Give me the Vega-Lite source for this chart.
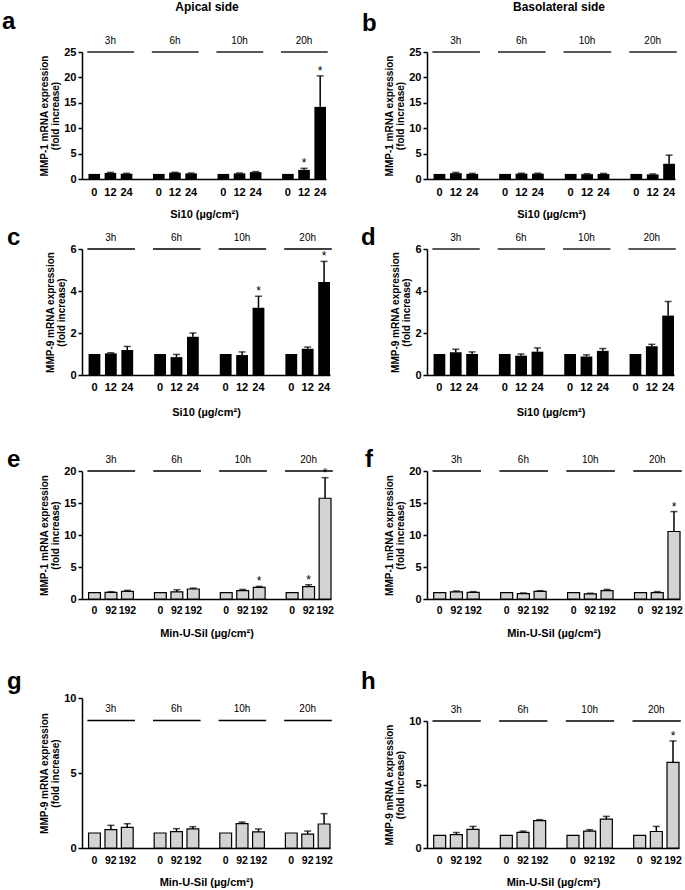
{
"$schema": "https://vega.github.io/schema/vega-lite/v6.json",
"padding": {"left": 2, "top": 1, "right": 0, "bottom": 0},
"config": {
  "font": "Liberation Sans",
  "view": {"stroke": null},
  "axis": {"grid": false, "domainColor": "black", "domainWidth": 1.5, "tickColor": "black", "tickWidth": 1.5, "tickSize": 4, "labelFontWeight": "bold", "labelFontSize": 11, "labelColor": "black", "labelPadding": 2, "labelOverlap": false, "titleFontWeight": "bold", "titleColor": "black", "titleFontSize": 10, "titlePadding": 3, "titleLineHeight": 11.5},
  "axisX": {"titleFontSize": 11, "labelAngle": 0, "ticks": false, "tickSize": 0, "labelFontSize": 11},
  "text": {"color": "black"}
},
"hconcat": [
{"vconcat": [
{"hconcat": [
 {"width": 244, "height": 127,
  "data": {"values": [
   {"k":"3h|0","m":1.0,"hi":null,"s":0},{"k":"3h|12","m":1.2,"hi":1.3,"s":0},{"k":"3h|24","m":1.05,"hi":1.12,"s":0},
   {"k":"6h|0","m":1.0,"hi":null,"s":0},{"k":"6h|12","m":1.25,"hi":1.32,"s":0},{"k":"6h|24","m":1.1,"hi":1.18,"s":0},
   {"k":"10h|0","m":1.0,"hi":null,"s":0},{"k":"10h|12","m":1.1,"hi":1.18,"s":0},{"k":"10h|24","m":1.35,"hi":1.45,"s":0},
   {"k":"20h|0","m":1.0,"hi":null,"s":0},{"k":"20h|12","m":1.8,"hi":2.1,"s":1},{"k":"20h|24","m":14.2,"hi":20.3,"s":1}]},
  "layer": [
   {"mark": {"type": "bar", "color": "black"},
    "encoding": {
     "x": {"field": "k", "type": "nominal", "scale": {"domain": ["3h|0","3h|12","3h|24","s1","6h|0","6h|12","6h|24","s2","10h|0","10h|12","10h|24","s3","20h|0","20h|12","20h|24"], "paddingInner": 0.28, "paddingOuter": 0.2, "align": 1}, "axis": {"labelExpr": "indexof(datum.value, '|') > 0 ? split(datum.value, '|')[1] : ''", "labelPadding": 7, "title": "Si10 (µg/cm²)", "titlePadding": 11}},
     "y": {"field": "m", "type": "quantitative", "scale": {"domain": [0,25], "nice": false}, "axis": {"values": [0,5,10,15,20,25], "title": ["MMP-1 mRNA expression", "(fold increase)"]}}}},
   {"transform": [{"filter": "datum.hi != null"}], "mark": {"type": "rule", "color": "black", "strokeWidth": 1.5},
    "encoding": {"x": {"field": "k", "type": "nominal", "axis": {"labelExpr": "indexof(datum.value, '|') > 0 ? split(datum.value, '|')[1] : ''", "labelPadding": 7, "title": "Si10 (µg/cm²)", "titlePadding": 11}}, "y": {"field": "m", "type": "quantitative", "axis": {"values": [0,5,10,15,20,25], "title": ["MMP-1 mRNA expression", "(fold increase)"]}}, "y2": {"field": "hi"}}},
   {"transform": [{"filter": "datum.hi != null"}], "mark": {"type": "tick", "color": "black", "thickness": 1.5, "size": 7, "orient": "horizontal"},
    "encoding": {"x": {"field": "k", "type": "nominal", "axis": {"labelExpr": "indexof(datum.value, '|') > 0 ? split(datum.value, '|')[1] : ''", "labelPadding": 7, "title": "Si10 (µg/cm²)", "titlePadding": 11}}, "y": {"field": "hi", "type": "quantitative", "axis": {"values": [0,5,10,15,20,25], "title": ["MMP-1 mRNA expression", "(fold increase)"]}}}},
   {"transform": [{"filter": "datum.s == 1"}], "mark": {"type": "text", "text": "*", "fontSize": 12, "dy": -1, "baseline": "alphabetic"},
    "encoding": {"x": {"field": "k", "type": "nominal", "axis": {"labelExpr": "indexof(datum.value, '|') > 0 ? split(datum.value, '|')[1] : ''", "labelPadding": 7, "title": "Si10 (µg/cm²)", "titlePadding": 11}}, "y": {"field": "hi", "type": "quantitative", "axis": {"values": [0,5,10,15,20,25], "title": ["MMP-1 mRNA expression", "(fold increase)"]}}}},
   {"data": {"values": [{"t":"3h","a":"3h|0","c":"3h|12","b":"3h|24"},{"t":"6h","a":"6h|0","c":"6h|12","b":"6h|24"},{"t":"10h","a":"10h|0","c":"10h|12","b":"10h|24"},{"t":"20h","a":"20h|0","c":"20h|12","b":"20h|24"}]},
    "layer": [
     {"mark": {"type": "rule", "color": "#222", "strokeWidth": 1.5},
      "encoding": {"x": {"field": "a", "type": "nominal", "bandPosition": -0.1, "axis": {"labelExpr": "indexof(datum.value, '|') > 0 ? split(datum.value, '|')[1] : ''", "labelPadding": 7, "title": "Si10 (µg/cm²)", "titlePadding": 11}}, "x2": {"field": "b", "bandPosition": 1.15}, "y": {"datum": 25, "axis": {"values": [0,5,10,15,20,25], "title": ["MMP-1 mRNA expression", "(fold increase)"]}}}},
     {"mark": {"type": "text", "fontSize": 10, "dy": -8.5, "baseline": "alphabetic"},
      "encoding": {"x": {"field": "c", "type": "nominal", "axis": {"labelExpr": "indexof(datum.value, '|') > 0 ? split(datum.value, '|')[1] : ''", "labelPadding": 7, "title": "Si10 (µg/cm²)", "titlePadding": 11}}, "y": {"datum": 25, "axis": {"values": [0,5,10,15,20,25], "title": ["MMP-1 mRNA expression", "(fold increase)"]}}, "text": {"field": "t"}}}
    ]},
   {"data": {"values": [{"label": "a"}]}, "mark": {"type": "text", "fontSize": 24, "fontWeight": "bold", "align": "left", "baseline": "top", "dx": -202, "dy": -42},
    "encoding": {"y": {"datum": 25, "axis": {"values": [0,5,10,15,20,25], "title": ["MMP-1 mRNA expression", "(fold increase)"]}}, "text": {"field": "label"}}},
   {"data": {"values": [{"label": "Apical side"}]}, "mark": {"type": "text", "fontSize": 12, "fontWeight": "bold", "baseline": "top", "dx": 3, "dy": -50},
    "encoding": {"y": {"datum": 25, "axis": {"values": [0,5,10,15,20,25], "title": ["MMP-1 mRNA expression", "(fold increase)"]}}, "text": {"field": "label"}}}
  ]}
]},
{"vconcat": [
{"hconcat": [
 {"width": 248, "height": 126,
  "data": {"values": [
   {"k":"3h|0","m":1.0,"hi":null,"s":0},{"k":"3h|12","m":1.03,"hi":1.06,"s":0},{"k":"3h|24","m":1.19,"hi":1.36,"s":0},
   {"k":"6h|0","m":1.0,"hi":null,"s":0},{"k":"6h|12","m":0.85,"hi":0.98,"s":0},{"k":"6h|24","m":1.82,"hi":2.0,"s":0},
   {"k":"10h|0","m":1.0,"hi":null,"s":0},{"k":"10h|12","m":0.95,"hi":1.1,"s":0},{"k":"10h|24","m":3.2,"hi":3.75,"s":1},
   {"k":"20h|0","m":1.0,"hi":null,"s":0},{"k":"20h|12","m":1.25,"hi":1.33,"s":0},{"k":"20h|24","m":4.43,"hi":5.41,"s":1}]},
  "layer": [
   {"mark": {"type": "bar", "color": "black"},
    "encoding": {
     "x": {"field": "k", "type": "nominal", "scale": {"domain": ["3h|0","3h|12","3h|24","s1","6h|0","6h|12","6h|24","s2","10h|0","10h|12","10h|24","s3","20h|0","20h|12","20h|24"], "paddingInner": 0.28, "paddingOuter": 0.2, "align": 1}, "axis": {"labelExpr": "indexof(datum.value, '|') > 0 ? split(datum.value, '|')[1] : ''", "labelPadding": 6, "title": "Si10 (µg/cm²)", "titlePadding": 14.5}},
     "y": {"field": "m", "type": "quantitative", "scale": {"domain": [0,6], "nice": false}, "axis": {"values": [0,2,4,6], "title": ["MMP-9 mRNA expression", "(fold increase)"]}}}},
   {"transform": [{"filter": "datum.hi != null"}], "mark": {"type": "rule", "color": "black", "strokeWidth": 1.5},
    "encoding": {"x": {"field": "k", "type": "nominal", "axis": {"labelExpr": "indexof(datum.value, '|') > 0 ? split(datum.value, '|')[1] : ''", "labelPadding": 6, "title": "Si10 (µg/cm²)", "titlePadding": 14.5}}, "y": {"field": "m", "type": "quantitative", "axis": {"values": [0,2,4,6], "title": ["MMP-9 mRNA expression", "(fold increase)"]}}, "y2": {"field": "hi"}}},
   {"transform": [{"filter": "datum.hi != null"}], "mark": {"type": "tick", "color": "black", "thickness": 1.5, "size": 7, "orient": "horizontal"},
    "encoding": {"x": {"field": "k", "type": "nominal", "axis": {"labelExpr": "indexof(datum.value, '|') > 0 ? split(datum.value, '|')[1] : ''", "labelPadding": 6, "title": "Si10 (µg/cm²)", "titlePadding": 14.5}}, "y": {"field": "hi", "type": "quantitative", "axis": {"values": [0,2,4,6], "title": ["MMP-9 mRNA expression", "(fold increase)"]}}}},
   {"transform": [{"filter": "datum.s == 1"}], "mark": {"type": "text", "text": "*", "fontSize": 12, "dy": -1, "baseline": "alphabetic"},
    "encoding": {"x": {"field": "k", "type": "nominal", "axis": {"labelExpr": "indexof(datum.value, '|') > 0 ? split(datum.value, '|')[1] : ''", "labelPadding": 6, "title": "Si10 (µg/cm²)", "titlePadding": 14.5}}, "y": {"field": "hi", "type": "quantitative", "axis": {"values": [0,2,4,6], "title": ["MMP-9 mRNA expression", "(fold increase)"]}}}},
   {"data": {"values": [{"t":"3h","a":"3h|0","c":"3h|12","b":"3h|24"},{"t":"6h","a":"6h|0","c":"6h|12","b":"6h|24"},{"t":"10h","a":"10h|0","c":"10h|12","b":"10h|24"},{"t":"20h","a":"20h|0","c":"20h|12","b":"20h|24"}]},
    "layer": [
     {"mark": {"type": "rule", "color": "black", "strokeWidth": 1.5},
      "encoding": {"x": {"field": "a", "type": "nominal", "bandPosition": -0.1, "axis": {"labelExpr": "indexof(datum.value, '|') > 0 ? split(datum.value, '|')[1] : ''", "labelPadding": 6, "title": "Si10 (µg/cm²)", "titlePadding": 14.5}}, "x2": {"field": "b", "bandPosition": 1.15}, "y": {"datum": 6, "axis": {"values": [0,2,4,6], "title": ["MMP-9 mRNA expression", "(fold increase)"]}}}},
     {"mark": {"type": "text", "fontSize": 10, "dy": -8.5, "baseline": "alphabetic"},
      "encoding": {"x": {"field": "c", "type": "nominal", "axis": {"labelExpr": "indexof(datum.value, '|') > 0 ? split(datum.value, '|')[1] : ''", "labelPadding": 6, "title": "Si10 (µg/cm²)", "titlePadding": 14.5}}, "y": {"datum": 6, "axis": {"values": [0,2,4,6], "title": ["MMP-9 mRNA expression", "(fold increase)"]}}, "text": {"field": "t"}}}
    ]},
   {"data": {"values": [{"label": "c"}]}, "mark": {"type": "text", "fontSize": 24, "fontWeight": "bold", "align": "left", "baseline": "top", "dx": -199, "dy": -23},
    "encoding": {"y": {"datum": 6, "axis": {"values": [0,2,4,6], "title": ["MMP-9 mRNA expression", "(fold increase)"]}}, "text": {"field": "label"}}}
  ]}
]},
{"vconcat": [
{"hconcat": [
 {"width": 249, "height": 128,
  "data": {"values": [
   {"k":"3h|0","m":1.0,"hi":null,"s":0},{"k":"3h|92","m":1.04,"hi":1.14,"s":0},{"k":"3h|192","m":1.2,"hi":1.35,"s":0},
   {"k":"6h|0","m":1.0,"hi":null,"s":0},{"k":"6h|92","m":1.1,"hi":1.45,"s":0},{"k":"6h|192","m":1.56,"hi":1.7,"s":0},
   {"k":"10h|0","m":1.0,"hi":null,"s":0},{"k":"10h|92","m":1.3,"hi":1.5,"s":0},{"k":"10h|192","m":1.82,"hi":1.97,"s":1},
   {"k":"20h|0","m":1.0,"hi":null,"s":0},{"k":"20h|92","m":1.92,"hi":2.23,"s":1},{"k":"20h|192","m":15.74,"hi":18.96,"s":1}]},
  "layer": [
   {"mark": {"type": "bar", "fill": "#d3d3d3", "stroke": "black", "strokeWidth": 1.2},
    "encoding": {
     "x": {"field": "k", "type": "nominal", "scale": {"domain": ["3h|0","3h|92","3h|192","s1","6h|0","6h|92","6h|192","s2","10h|0","10h|92","10h|192","s3","20h|0","20h|92","20h|192"], "paddingInner": 0.28, "paddingOuter": 0.2, "align": 1}, "axis": {"labelExpr": "indexof(datum.value, '|') > 0 ? split(datum.value, '|')[1] : ''", "labelPadding": 6, "labelFontSize": 10.5, "title": "Min-U-Sil (µg/cm²)", "titlePadding": 12}},
     "y": {"field": "m", "type": "quantitative", "scale": {"domain": [0,20], "nice": false}, "axis": {"values": [0,5,10,15,20], "title": ["MMP-1 mRNA expression", "(fold increase)"]}}}},
   {"transform": [{"filter": "datum.hi != null"}], "mark": {"type": "rule", "color": "black", "strokeWidth": 1.5},
    "encoding": {"x": {"field": "k", "type": "nominal", "axis": {"labelExpr": "indexof(datum.value, '|') > 0 ? split(datum.value, '|')[1] : ''", "labelPadding": 6, "labelFontSize": 10.5, "title": "Min-U-Sil (µg/cm²)", "titlePadding": 12}}, "y": {"field": "m", "type": "quantitative", "axis": {"values": [0,5,10,15,20], "title": ["MMP-1 mRNA expression", "(fold increase)"]}}, "y2": {"field": "hi"}}},
   {"transform": [{"filter": "datum.hi != null"}], "mark": {"type": "tick", "color": "black", "thickness": 1.5, "size": 7, "orient": "horizontal"},
    "encoding": {"x": {"field": "k", "type": "nominal", "axis": {"labelExpr": "indexof(datum.value, '|') > 0 ? split(datum.value, '|')[1] : ''", "labelPadding": 6, "labelFontSize": 10.5, "title": "Min-U-Sil (µg/cm²)", "titlePadding": 12}}, "y": {"field": "hi", "type": "quantitative", "axis": {"values": [0,5,10,15,20], "title": ["MMP-1 mRNA expression", "(fold increase)"]}}}},
   {"transform": [{"filter": "datum.s == 1"}], "mark": {"type": "text", "text": "*", "fontSize": 12, "dy": -1, "baseline": "alphabetic"},
    "encoding": {"x": {"field": "k", "type": "nominal", "axis": {"labelExpr": "indexof(datum.value, '|') > 0 ? split(datum.value, '|')[1] : ''", "labelPadding": 6, "labelFontSize": 10.5, "title": "Min-U-Sil (µg/cm²)", "titlePadding": 12}}, "y": {"field": "hi", "type": "quantitative", "axis": {"values": [0,5,10,15,20], "title": ["MMP-1 mRNA expression", "(fold increase)"]}}}},
   {"data": {"values": [{"t":"3h","a":"3h|0","c":"3h|92","b":"3h|192"},{"t":"6h","a":"6h|0","c":"6h|92","b":"6h|192"},{"t":"10h","a":"10h|0","c":"10h|92","b":"10h|192"},{"t":"20h","a":"20h|0","c":"20h|92","b":"20h|192"}]},
    "layer": [
     {"mark": {"type": "rule", "color": "black", "strokeWidth": 1.5},
      "encoding": {"x": {"field": "a", "type": "nominal", "bandPosition": -0.1, "axis": {"labelExpr": "indexof(datum.value, '|') > 0 ? split(datum.value, '|')[1] : ''", "labelPadding": 6, "labelFontSize": 10.5, "title": "Min-U-Sil (µg/cm²)", "titlePadding": 12}}, "x2": {"field": "b", "bandPosition": 1.15}, "y": {"datum": 20, "axis": {"values": [0,5,10,15,20], "title": ["MMP-1 mRNA expression", "(fold increase)"]}}}},
     {"mark": {"type": "text", "fontSize": 10, "dy": -8.5, "baseline": "alphabetic"},
      "encoding": {"x": {"field": "c", "type": "nominal", "axis": {"labelExpr": "indexof(datum.value, '|') > 0 ? split(datum.value, '|')[1] : ''", "labelPadding": 6, "labelFontSize": 10.5, "title": "Min-U-Sil (µg/cm²)", "titlePadding": 12}}, "y": {"datum": 20, "axis": {"values": [0,5,10,15,20], "title": ["MMP-1 mRNA expression", "(fold increase)"]}}, "text": {"field": "t"}}}
    ]},
   {"data": {"values": [{"label": "e"}]}, "mark": {"type": "text", "fontSize": 24, "fontWeight": "bold", "align": "left", "baseline": "top", "dx": -199.5, "dy": -23},
    "encoding": {"y": {"datum": 20, "axis": {"values": [0,5,10,15,20], "title": ["MMP-1 mRNA expression", "(fold increase)"]}}, "text": {"field": "label"}}}
  ]}
]},
{"hconcat": [
 {"width": 248, "height": 150,
  "data": {"values": [
   {"k":"3h|0","m":1.0,"hi":null,"s":0},{"k":"3h|92","m":1.22,"hi":1.51,"s":0},{"k":"3h|192","m":1.38,"hi":1.62,"s":0},
   {"k":"6h|0","m":1.0,"hi":null,"s":0},{"k":"6h|92","m":1.09,"hi":1.29,"s":0},{"k":"6h|192","m":1.27,"hi":1.42,"s":0},
   {"k":"10h|0","m":1.0,"hi":null,"s":0},{"k":"10h|92","m":1.62,"hi":1.73,"s":0},{"k":"10h|192","m":1.07,"hi":1.27,"s":0},
   {"k":"20h|0","m":1.0,"hi":null,"s":0},{"k":"20h|92","m":0.93,"hi":1.13,"s":0},{"k":"20h|192","m":1.6,"hi":2.29,"s":0}]},
  "layer": [
   {"mark": {"type": "bar", "fill": "#d3d3d3", "stroke": "black", "strokeWidth": 1.2},
    "encoding": {
     "x": {"field": "k", "type": "nominal", "scale": {"domain": ["3h|0","3h|92","3h|192","s1","6h|0","6h|92","6h|192","s2","10h|0","10h|92","10h|192","s3","20h|0","20h|92","20h|192"], "paddingInner": 0.28, "paddingOuter": 0.2, "align": 1}, "axis": {"labelExpr": "indexof(datum.value, '|') > 0 ? split(datum.value, '|')[1] : ''", "labelPadding": 7, "labelFontSize": 10.5, "title": "Min-U-Sil (µg/cm²)", "titlePadding": 11}},
     "y": {"field": "m", "type": "quantitative", "scale": {"domain": [0,10], "nice": false}, "axis": {"values": [0,5,10], "title": ["MMP-9 mRNA expression", "(fold increase)"]}}}},
   {"transform": [{"filter": "datum.hi != null"}], "mark": {"type": "rule", "color": "black", "strokeWidth": 1.5},
    "encoding": {"x": {"field": "k", "type": "nominal", "axis": {"labelExpr": "indexof(datum.value, '|') > 0 ? split(datum.value, '|')[1] : ''", "labelPadding": 7, "labelFontSize": 10.5, "title": "Min-U-Sil (µg/cm²)", "titlePadding": 11}}, "y": {"field": "m", "type": "quantitative", "axis": {"values": [0,5,10], "title": ["MMP-9 mRNA expression", "(fold increase)"]}}, "y2": {"field": "hi"}}},
   {"transform": [{"filter": "datum.hi != null"}], "mark": {"type": "tick", "color": "black", "thickness": 1.5, "size": 7, "orient": "horizontal"},
    "encoding": {"x": {"field": "k", "type": "nominal", "axis": {"labelExpr": "indexof(datum.value, '|') > 0 ? split(datum.value, '|')[1] : ''", "labelPadding": 7, "labelFontSize": 10.5, "title": "Min-U-Sil (µg/cm²)", "titlePadding": 11}}, "y": {"field": "hi", "type": "quantitative", "axis": {"values": [0,5,10], "title": ["MMP-9 mRNA expression", "(fold increase)"]}}}},
   {"data": {"values": [{"t":"3h","a":"3h|0","c":"3h|92","b":"3h|192"},{"t":"6h","a":"6h|0","c":"6h|92","b":"6h|192"},{"t":"10h","a":"10h|0","c":"10h|92","b":"10h|192"},{"t":"20h","a":"20h|0","c":"20h|92","b":"20h|192"}]},
    "layer": [
     {"mark": {"type": "rule", "color": "black", "strokeWidth": 1.5},
      "encoding": {"x": {"field": "a", "type": "nominal", "bandPosition": -0.1, "axis": {"labelExpr": "indexof(datum.value, '|') > 0 ? split(datum.value, '|')[1] : ''", "labelPadding": 7, "labelFontSize": 10.5, "title": "Min-U-Sil (µg/cm²)", "titlePadding": 11}}, "x2": {"field": "b", "bandPosition": 1.15}, "y": {"datum": 8.5, "axis": {"values": [0,5,10], "title": ["MMP-9 mRNA expression", "(fold increase)"]}}}},
     {"mark": {"type": "text", "fontSize": 10, "dy": -8.5, "baseline": "alphabetic"},
      "encoding": {"x": {"field": "c", "type": "nominal", "axis": {"labelExpr": "indexof(datum.value, '|') > 0 ? split(datum.value, '|')[1] : ''", "labelPadding": 7, "labelFontSize": 10.5, "title": "Min-U-Sil (µg/cm²)", "titlePadding": 11}}, "y": {"datum": 8.5, "axis": {"values": [0,5,10], "title": ["MMP-9 mRNA expression", "(fold increase)"]}}, "text": {"field": "t"}}}
    ]},
   {"data": {"values": [{"label": "g"}]}, "mark": {"type": "text", "fontSize": 24, "fontWeight": "bold", "align": "left", "baseline": "top", "dx": -199, "dy": -28},
    "encoding": {"y": {"datum": 10, "axis": {"values": [0,5,10], "title": ["MMP-9 mRNA expression", "(fold increase)"]}}, "text": {"field": "label"}}}
  ]}
]}
], "spacing": 31}
], "spacing": 30}
], "spacing": 7},
{"vconcat": [
{"hconcat": [
 {"width": 248, "height": 127,
  "data": {"values": [
   {"k":"3h|0","m":1.0,"hi":null,"s":0},{"k":"3h|12","m":1.15,"hi":1.3,"s":0},{"k":"3h|24","m":1.0,"hi":1.1,"s":0},
   {"k":"6h|0","m":1.0,"hi":null,"s":0},{"k":"6h|12","m":1.05,"hi":1.15,"s":0},{"k":"6h|24","m":1.05,"hi":1.15,"s":0},
   {"k":"10h|0","m":1.0,"hi":null,"s":0},{"k":"10h|12","m":0.95,"hi":1.05,"s":0},{"k":"10h|24","m":1.0,"hi":1.1,"s":0},
   {"k":"20h|0","m":1.0,"hi":null,"s":0},{"k":"20h|12","m":0.9,"hi":1.0,"s":0},{"k":"20h|24","m":3.0,"hi":4.7,"s":0}]},
  "layer": [
   {"mark": {"type": "bar", "color": "black"},
    "encoding": {
     "x": {"field": "k", "type": "nominal", "scale": {"domain": ["3h|0","3h|12","3h|24","s1","6h|0","6h|12","6h|24","s2","10h|0","10h|12","10h|24","s3","20h|0","20h|12","20h|24"], "paddingInner": 0.28, "paddingOuter": 0.2, "align": 1}, "axis": {"labelExpr": "indexof(datum.value, '|') > 0 ? split(datum.value, '|')[1] : ''", "labelPadding": 7, "title": "Si10 (µg/cm²)", "titlePadding": 11}},
     "y": {"field": "m", "type": "quantitative", "scale": {"domain": [0,25], "nice": false}, "axis": {"values": [0,5,10,15,20,25], "title": ["MMP-1 mRNA expression", "(fold increase)"]}}}},
   {"transform": [{"filter": "datum.hi != null"}], "mark": {"type": "rule", "color": "black", "strokeWidth": 1.5},
    "encoding": {"x": {"field": "k", "type": "nominal", "axis": {"labelExpr": "indexof(datum.value, '|') > 0 ? split(datum.value, '|')[1] : ''", "labelPadding": 7, "title": "Si10 (µg/cm²)", "titlePadding": 11}}, "y": {"field": "m", "type": "quantitative", "axis": {"values": [0,5,10,15,20,25], "title": ["MMP-1 mRNA expression", "(fold increase)"]}}, "y2": {"field": "hi"}}},
   {"transform": [{"filter": "datum.hi != null"}], "mark": {"type": "tick", "color": "black", "thickness": 1.5, "size": 7, "orient": "horizontal"},
    "encoding": {"x": {"field": "k", "type": "nominal", "axis": {"labelExpr": "indexof(datum.value, '|') > 0 ? split(datum.value, '|')[1] : ''", "labelPadding": 7, "title": "Si10 (µg/cm²)", "titlePadding": 11}}, "y": {"field": "hi", "type": "quantitative", "axis": {"values": [0,5,10,15,20,25], "title": ["MMP-1 mRNA expression", "(fold increase)"]}}}},
   {"data": {"values": [{"t":"3h","a":"3h|0","c":"3h|12","b":"3h|24"},{"t":"6h","a":"6h|0","c":"6h|12","b":"6h|24"},{"t":"10h","a":"10h|0","c":"10h|12","b":"10h|24"},{"t":"20h","a":"20h|0","c":"20h|12","b":"20h|24"}]},
    "layer": [
     {"mark": {"type": "rule", "color": "#222", "strokeWidth": 1.5},
      "encoding": {"x": {"field": "a", "type": "nominal", "bandPosition": -0.1, "axis": {"labelExpr": "indexof(datum.value, '|') > 0 ? split(datum.value, '|')[1] : ''", "labelPadding": 7, "title": "Si10 (µg/cm²)", "titlePadding": 11}}, "x2": {"field": "b", "bandPosition": 1.15}, "y": {"datum": 25, "axis": {"values": [0,5,10,15,20,25], "title": ["MMP-1 mRNA expression", "(fold increase)"]}}}},
     {"mark": {"type": "text", "fontSize": 10, "dy": -8.5, "baseline": "alphabetic"},
      "encoding": {"x": {"field": "c", "type": "nominal", "axis": {"labelExpr": "indexof(datum.value, '|') > 0 ? split(datum.value, '|')[1] : ''", "labelPadding": 7, "title": "Si10 (µg/cm²)", "titlePadding": 11}}, "y": {"datum": 25, "axis": {"values": [0,5,10,15,20,25], "title": ["MMP-1 mRNA expression", "(fold increase)"]}}, "text": {"field": "t"}}}
    ]},
   {"data": {"values": [{"label": "b"}]}, "mark": {"type": "text", "fontSize": 24, "fontWeight": "bold", "align": "left", "baseline": "top", "dx": -189, "dy": -40},
    "encoding": {"y": {"datum": 25, "axis": {"values": [0,5,10,15,20,25], "title": ["MMP-1 mRNA expression", "(fold increase)"]}}, "text": {"field": "label"}}},
   {"data": {"values": [{"label": "Basolateral side"}]}, "mark": {"type": "text", "fontSize": 12, "fontWeight": "bold", "baseline": "top", "dx": 8, "dy": -50},
    "encoding": {"y": {"datum": 25, "axis": {"values": [0,5,10,15,20,25], "title": ["MMP-1 mRNA expression", "(fold increase)"]}}, "text": {"field": "label"}}}
  ]}
]},
{"vconcat": [
{"hconcat": [
 {"width": 247, "height": 126,
  "data": {"values": [
   {"k":"3h|0","m":1.0,"hi":null,"s":0},{"k":"3h|12","m":1.08,"hi":1.23,"s":0},{"k":"3h|24","m":1.0,"hi":1.1,"s":0},
   {"k":"6h|0","m":1.0,"hi":null,"s":0},{"k":"6h|12","m":0.92,"hi":1.0,"s":0},{"k":"6h|24","m":1.11,"hi":1.29,"s":0},
   {"k":"10h|0","m":1.0,"hi":null,"s":0},{"k":"10h|12","m":0.88,"hi":0.96,"s":0},{"k":"10h|24","m":1.15,"hi":1.26,"s":0},
   {"k":"20h|0","m":1.0,"hi":null,"s":0},{"k":"20h|12","m":1.37,"hi":1.46,"s":0},{"k":"20h|24","m":2.83,"hi":3.5,"s":0}]},
  "layer": [
   {"mark": {"type": "bar", "color": "black"},
    "encoding": {
     "x": {"field": "k", "type": "nominal", "scale": {"domain": ["3h|0","3h|12","3h|24","s1","6h|0","6h|12","6h|24","s2","10h|0","10h|12","10h|24","s3","20h|0","20h|12","20h|24"], "paddingInner": 0.28, "paddingOuter": 0.2, "align": 1}, "axis": {"labelExpr": "indexof(datum.value, '|') > 0 ? split(datum.value, '|')[1] : ''", "labelPadding": 6, "title": "Si10 (µg/cm²)", "titlePadding": 14.5}},
     "y": {"field": "m", "type": "quantitative", "scale": {"domain": [0,6], "nice": false}, "axis": {"values": [0,2,4,6], "title": ["MMP-9 mRNA expression", "(fold increase)"]}}}},
   {"transform": [{"filter": "datum.hi != null"}], "mark": {"type": "rule", "color": "black", "strokeWidth": 1.5},
    "encoding": {"x": {"field": "k", "type": "nominal", "axis": {"labelExpr": "indexof(datum.value, '|') > 0 ? split(datum.value, '|')[1] : ''", "labelPadding": 6, "title": "Si10 (µg/cm²)", "titlePadding": 14.5}}, "y": {"field": "m", "type": "quantitative", "axis": {"values": [0,2,4,6], "title": ["MMP-9 mRNA expression", "(fold increase)"]}}, "y2": {"field": "hi"}}},
   {"transform": [{"filter": "datum.hi != null"}], "mark": {"type": "tick", "color": "black", "thickness": 1.5, "size": 7, "orient": "horizontal"},
    "encoding": {"x": {"field": "k", "type": "nominal", "axis": {"labelExpr": "indexof(datum.value, '|') > 0 ? split(datum.value, '|')[1] : ''", "labelPadding": 6, "title": "Si10 (µg/cm²)", "titlePadding": 14.5}}, "y": {"field": "hi", "type": "quantitative", "axis": {"values": [0,2,4,6], "title": ["MMP-9 mRNA expression", "(fold increase)"]}}}},
   {"data": {"values": [{"t":"3h","a":"3h|0","c":"3h|12","b":"3h|24"},{"t":"6h","a":"6h|0","c":"6h|12","b":"6h|24"},{"t":"10h","a":"10h|0","c":"10h|12","b":"10h|24"},{"t":"20h","a":"20h|0","c":"20h|12","b":"20h|24"}]},
    "layer": [
     {"mark": {"type": "rule", "color": "#222", "strokeWidth": 1.5},
      "encoding": {"x": {"field": "a", "type": "nominal", "bandPosition": -0.1, "axis": {"labelExpr": "indexof(datum.value, '|') > 0 ? split(datum.value, '|')[1] : ''", "labelPadding": 6, "title": "Si10 (µg/cm²)", "titlePadding": 14.5}}, "x2": {"field": "b", "bandPosition": 1.15}, "y": {"datum": 6, "axis": {"values": [0,2,4,6], "title": ["MMP-9 mRNA expression", "(fold increase)"]}}}},
     {"mark": {"type": "text", "fontSize": 10, "dy": -8.5, "baseline": "alphabetic"},
      "encoding": {"x": {"field": "c", "type": "nominal", "axis": {"labelExpr": "indexof(datum.value, '|') > 0 ? split(datum.value, '|')[1] : ''", "labelPadding": 6, "title": "Si10 (µg/cm²)", "titlePadding": 14.5}}, "y": {"datum": 6, "axis": {"values": [0,2,4,6], "title": ["MMP-9 mRNA expression", "(fold increase)"]}}, "text": {"field": "t"}}}
    ]},
   {"data": {"values": [{"label": "d"}]}, "mark": {"type": "text", "fontSize": 24, "fontWeight": "bold", "align": "left", "baseline": "top", "dx": -189.5, "dy": -23},
    "encoding": {"y": {"datum": 6, "axis": {"values": [0,2,4,6], "title": ["MMP-9 mRNA expression", "(fold increase)"]}}, "text": {"field": "label"}}}
  ]}
]},
{"vconcat": [
{"hconcat": [
 {"width": 253, "height": 128,
  "data": {"values": [
   {"k":"3h|0","m":1.0,"hi":null,"s":0},{"k":"3h|92","m":1.1,"hi":1.25,"s":0},{"k":"3h|192","m":1.05,"hi":1.15,"s":0},
   {"k":"6h|0","m":1.0,"hi":null,"s":0},{"k":"6h|92","m":0.85,"hi":0.95,"s":0},{"k":"6h|192","m":1.2,"hi":1.3,"s":0},
   {"k":"10h|0","m":1.0,"hi":null,"s":0},{"k":"10h|92","m":0.8,"hi":0.9,"s":0},{"k":"10h|192","m":1.3,"hi":1.5,"s":0},
   {"k":"20h|0","m":1.0,"hi":null,"s":0},{"k":"20h|92","m":1.0,"hi":1.15,"s":0},{"k":"20h|192","m":10.55,"hi":13.66,"s":1}]},
  "layer": [
   {"mark": {"type": "bar", "fill": "#d3d3d3", "stroke": "black", "strokeWidth": 1.2},
    "encoding": {
     "x": {"field": "k", "type": "nominal", "scale": {"domain": ["3h|0","3h|92","3h|192","s1","6h|0","6h|92","6h|192","s2","10h|0","10h|92","10h|192","s3","20h|0","20h|92","20h|192"], "paddingInner": 0.28, "paddingOuter": 0.2, "align": 1}, "axis": {"labelExpr": "indexof(datum.value, '|') > 0 ? split(datum.value, '|')[1] : ''", "labelPadding": 6, "labelFontSize": 10.5, "title": "Min-U-Sil (µg/cm²)", "titlePadding": 12}},
     "y": {"field": "m", "type": "quantitative", "scale": {"domain": [0,20], "nice": false}, "axis": {"values": [0,5,10,15,20], "title": ["MMP-1 mRNA expression", "(fold increase)"]}}}},
   {"transform": [{"filter": "datum.hi != null"}], "mark": {"type": "rule", "color": "black", "strokeWidth": 1.5},
    "encoding": {"x": {"field": "k", "type": "nominal", "axis": {"labelExpr": "indexof(datum.value, '|') > 0 ? split(datum.value, '|')[1] : ''", "labelPadding": 6, "labelFontSize": 10.5, "title": "Min-U-Sil (µg/cm²)", "titlePadding": 12}}, "y": {"field": "m", "type": "quantitative", "axis": {"values": [0,5,10,15,20], "title": ["MMP-1 mRNA expression", "(fold increase)"]}}, "y2": {"field": "hi"}}},
   {"transform": [{"filter": "datum.hi != null"}], "mark": {"type": "tick", "color": "black", "thickness": 1.5, "size": 7, "orient": "horizontal"},
    "encoding": {"x": {"field": "k", "type": "nominal", "axis": {"labelExpr": "indexof(datum.value, '|') > 0 ? split(datum.value, '|')[1] : ''", "labelPadding": 6, "labelFontSize": 10.5, "title": "Min-U-Sil (µg/cm²)", "titlePadding": 12}}, "y": {"field": "hi", "type": "quantitative", "axis": {"values": [0,5,10,15,20], "title": ["MMP-1 mRNA expression", "(fold increase)"]}}}},
   {"transform": [{"filter": "datum.s == 1"}], "mark": {"type": "text", "text": "*", "fontSize": 12, "dy": -1, "baseline": "alphabetic"},
    "encoding": {"x": {"field": "k", "type": "nominal", "axis": {"labelExpr": "indexof(datum.value, '|') > 0 ? split(datum.value, '|')[1] : ''", "labelPadding": 6, "labelFontSize": 10.5, "title": "Min-U-Sil (µg/cm²)", "titlePadding": 12}}, "y": {"field": "hi", "type": "quantitative", "axis": {"values": [0,5,10,15,20], "title": ["MMP-1 mRNA expression", "(fold increase)"]}}}},
   {"data": {"values": [{"t":"3h","a":"3h|0","c":"3h|92","b":"3h|192"},{"t":"6h","a":"6h|0","c":"6h|92","b":"6h|192"},{"t":"10h","a":"10h|0","c":"10h|92","b":"10h|192"},{"t":"20h","a":"20h|0","c":"20h|92","b":"20h|192"}]},
    "layer": [
     {"mark": {"type": "rule", "color": "black", "strokeWidth": 1.5},
      "encoding": {"x": {"field": "a", "type": "nominal", "bandPosition": -0.1, "axis": {"labelExpr": "indexof(datum.value, '|') > 0 ? split(datum.value, '|')[1] : ''", "labelPadding": 6, "labelFontSize": 10.5, "title": "Min-U-Sil (µg/cm²)", "titlePadding": 12}}, "x2": {"field": "b", "bandPosition": 1.15}, "y": {"datum": 20, "axis": {"values": [0,5,10,15,20], "title": ["MMP-1 mRNA expression", "(fold increase)"]}}}},
     {"mark": {"type": "text", "fontSize": 10, "dy": -8.5, "baseline": "alphabetic"},
      "encoding": {"x": {"field": "c", "type": "nominal", "axis": {"labelExpr": "indexof(datum.value, '|') > 0 ? split(datum.value, '|')[1] : ''", "labelPadding": 6, "labelFontSize": 10.5, "title": "Min-U-Sil (µg/cm²)", "titlePadding": 12}}, "y": {"datum": 20, "axis": {"values": [0,5,10,15,20], "title": ["MMP-1 mRNA expression", "(fold increase)"]}}, "text": {"field": "t"}}}
    ]},
   {"data": {"values": [{"label": "f"}]}, "mark": {"type": "text", "fontSize": 24, "fontWeight": "bold", "align": "left", "baseline": "top", "dx": -188.5, "dy": -23},
    "encoding": {"y": {"datum": 20, "axis": {"values": [0,5,10,15,20], "title": ["MMP-1 mRNA expression", "(fold increase)"]}}, "text": {"field": "label"}}}
  ]}
]},
{"hconcat": [
 {"width": 252, "height": 127,
  "data": {"values": [
   {"k":"3h|0","m":1.0,"hi":null,"s":0},{"k":"3h|92","m":1.05,"hi":1.23,"s":0},{"k":"3h|192","m":1.47,"hi":1.7,"s":0},
   {"k":"6h|0","m":1.0,"hi":null,"s":0},{"k":"6h|92","m":1.23,"hi":1.33,"s":0},{"k":"6h|192","m":2.15,"hi":2.23,"s":0},
   {"k":"10h|0","m":1.0,"hi":null,"s":0},{"k":"10h|92","m":1.33,"hi":1.44,"s":0},{"k":"10h|192","m":2.28,"hi":2.49,"s":0},
   {"k":"20h|0","m":1.0,"hi":null,"s":0},{"k":"20h|92","m":1.3,"hi":1.7,"s":0},{"k":"20h|192","m":6.75,"hi":8.43,"s":1}]},
  "layer": [
   {"mark": {"type": "bar", "fill": "#d3d3d3", "stroke": "black", "strokeWidth": 1.2},
    "encoding": {
     "x": {"field": "k", "type": "nominal", "scale": {"domain": ["3h|0","3h|92","3h|192","s1","6h|0","6h|92","6h|192","s2","10h|0","10h|92","10h|192","s3","20h|0","20h|92","20h|192"], "paddingInner": 0.28, "paddingOuter": 0.2, "align": 1}, "axis": {"labelExpr": "indexof(datum.value, '|') > 0 ? split(datum.value, '|')[1] : ''", "labelPadding": 7, "labelFontSize": 10.5, "title": "Min-U-Sil (µg/cm²)", "titlePadding": 11}},
     "y": {"field": "m", "type": "quantitative", "scale": {"domain": [0,10], "nice": false}, "axis": {"values": [0,5,10], "title": ["MMP-9 mRNA expression", "(fold increase)"]}}}},
   {"transform": [{"filter": "datum.hi != null"}], "mark": {"type": "rule", "color": "black", "strokeWidth": 1.5},
    "encoding": {"x": {"field": "k", "type": "nominal", "axis": {"labelExpr": "indexof(datum.value, '|') > 0 ? split(datum.value, '|')[1] : ''", "labelPadding": 7, "labelFontSize": 10.5, "title": "Min-U-Sil (µg/cm²)", "titlePadding": 11}}, "y": {"field": "m", "type": "quantitative", "axis": {"values": [0,5,10], "title": ["MMP-9 mRNA expression", "(fold increase)"]}}, "y2": {"field": "hi"}}},
   {"transform": [{"filter": "datum.hi != null"}], "mark": {"type": "tick", "color": "black", "thickness": 1.5, "size": 7, "orient": "horizontal"},
    "encoding": {"x": {"field": "k", "type": "nominal", "axis": {"labelExpr": "indexof(datum.value, '|') > 0 ? split(datum.value, '|')[1] : ''", "labelPadding": 7, "labelFontSize": 10.5, "title": "Min-U-Sil (µg/cm²)", "titlePadding": 11}}, "y": {"field": "hi", "type": "quantitative", "axis": {"values": [0,5,10], "title": ["MMP-9 mRNA expression", "(fold increase)"]}}}},
   {"transform": [{"filter": "datum.s == 1"}], "mark": {"type": "text", "text": "*", "fontSize": 12, "dy": -1, "baseline": "alphabetic"},
    "encoding": {"x": {"field": "k", "type": "nominal", "axis": {"labelExpr": "indexof(datum.value, '|') > 0 ? split(datum.value, '|')[1] : ''", "labelPadding": 7, "labelFontSize": 10.5, "title": "Min-U-Sil (µg/cm²)", "titlePadding": 11}}, "y": {"field": "hi", "type": "quantitative", "axis": {"values": [0,5,10], "title": ["MMP-9 mRNA expression", "(fold increase)"]}}}},
   {"data": {"values": [{"t":"3h","a":"3h|0","c":"3h|92","b":"3h|192"},{"t":"6h","a":"6h|0","c":"6h|92","b":"6h|192"},{"t":"10h","a":"10h|0","c":"10h|92","b":"10h|192"},{"t":"20h","a":"20h|0","c":"20h|92","b":"20h|192"}]},
    "layer": [
     {"mark": {"type": "rule", "color": "black", "strokeWidth": 1.5},
      "encoding": {"x": {"field": "a", "type": "nominal", "bandPosition": -0.1, "axis": {"labelExpr": "indexof(datum.value, '|') > 0 ? split(datum.value, '|')[1] : ''", "labelPadding": 7, "labelFontSize": 10.5, "title": "Min-U-Sil (µg/cm²)", "titlePadding": 11}}, "x2": {"field": "b", "bandPosition": 1.15}, "y": {"datum": 10, "axis": {"values": [0,5,10], "title": ["MMP-9 mRNA expression", "(fold increase)"]}}}},
     {"mark": {"type": "text", "fontSize": 10, "dy": -8.5, "baseline": "alphabetic"},
      "encoding": {"x": {"field": "c", "type": "nominal", "axis": {"labelExpr": "indexof(datum.value, '|') > 0 ? split(datum.value, '|')[1] : ''", "labelPadding": 7, "labelFontSize": 10.5, "title": "Min-U-Sil (µg/cm²)", "titlePadding": 11}}, "y": {"datum": 10, "axis": {"values": [0,5,10], "title": ["MMP-9 mRNA expression", "(fold increase)"]}}, "text": {"field": "t"}}}
    ]},
   {"data": {"values": [{"label": "h"}]}, "mark": {"type": "text", "fontSize": 24, "fontWeight": "bold", "align": "left", "baseline": "top", "dx": -192, "dy": -51},
    "encoding": {"y": {"datum": 10, "axis": {"values": [0,5,10], "title": ["MMP-9 mRNA expression", "(fold increase)"]}}, "text": {"field": "label"}}}
  ]}
]}
], "spacing": 31}
], "spacing": 30}
], "spacing": 7}
], "spacing": 27}
